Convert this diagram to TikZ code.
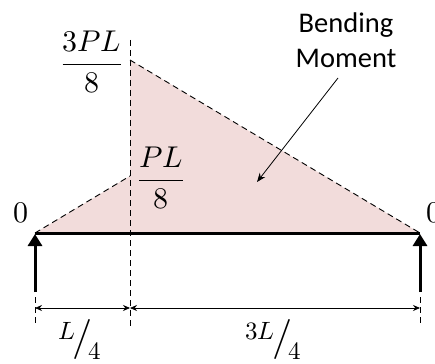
\documentclass[tikz,border=0pt]{standalone}
\usepackage{fontspec}
\usepackage{unicode-math}
\setmathfont{Latin Modern Math}
\newfontfamily\calibri{Carlito}
\usetikzlibrary{arrows.meta}
\definecolor{momentfill}{RGB}{242,220,219}
\newcommand{\skfrac}[2]{\raisebox{10pt}{\fontsize{25}{28}\selectfont$#1$}\kern-3pt{\fontsize{40}{44}\selectfont$/$}\kern-4pt\raisebox{-10pt}{\fontsize{25}{28}\selectfont$#2$}}
\begin{document}
\begin{tikzpicture}[x=1pt,y=-1pt,
  dashline/.style={dash pattern=on 6pt off 4pt, line width=0.9pt},
  beam/.style={line width=3pt},
  support/.style={line width=3pt,-{Triangle[length=12pt,width=14pt]}},
  dim/.style={line width=0.8pt,{Stealth[length=7pt,width=6pt]}-{Stealth[length=7pt,width=6pt]}},
  mathlbl/.style={font=\fontsize{30}{34}\selectfont, inner sep=0pt},
  txtlbl/.style={font=\calibri\fontsize{28.5}{35}\selectfont, align=center, inner sep=0pt},
  pointer/.style={line width=0.8pt,-{Stealth[length=9pt,width=7pt]}}
]
\useasboundingbox (0,0) rectangle (435,363);
% key points
\coordinate (A) at (35,233);
\coordinate (B) at (420,233);
\coordinate (Top) at (130,60);
\coordinate (Low) at (130,176);
\coordinate (Vt) at (130,40);
\coordinate (Vb) at (130,328);
\coordinate (SA) at (35,292);
\coordinate (SB) at (420,292);
\coordinate (TA1) at (35,297);
\coordinate (TA2) at (35,325);
\coordinate (TB1) at (420,297);
\coordinate (TB2) at (420,325);
\coordinate (DA) at (35,308);
\coordinate (DM) at (130,308);
\coordinate (DB) at (420,308);
% moment diagram
\fill[momentfill] (A) -- (Low) -- (Top) -- (B) -- cycle;
\draw[dashline] (A) -- (Low);
\draw[dashline] (Top) -- (B);
\draw[dashline] (Vt) -- (Vb);
% supports and beam
\draw[support] (SA) -- ([yshift=-1pt]A);
\draw[support] (SB) -- ([yshift=-1pt]B);
\draw[beam] (A) -- (B);
% dimensions
\draw[dashline] (TA1) -- (TA2);
\draw[dashline] (TB1) -- (TB2);
\draw[dim] (DA) -- (DM);
\draw[dim] (DM) -- (DB);
% labels
\node[mathlbl] (z1) at (21,213) {$0$};
\node[mathlbl] (z2) at (434,213) {$0$};
\node[mathlbl] (mmax) at (92,62) {$\displaystyle\frac{3PL}{8}$};
\node[mathlbl] (mlow) at (161,178) {$\displaystyle\frac{PL}{8}$};
\node[txtlbl] (bm) at (346,40) {Bending\\Moment};
\node[inner sep=0pt, anchor=base] (d1) at (80,349) {\skfrac{L}{4}};
\node[inner sep=0pt, anchor=base] (d2) at (273,349) {\skfrac{3L}{4}};
\coordinate (P1) at (338,78);
\coordinate (P2) at (257,182);
\draw[pointer] (P1) -- (P2);
\end{tikzpicture}
\end{document}
